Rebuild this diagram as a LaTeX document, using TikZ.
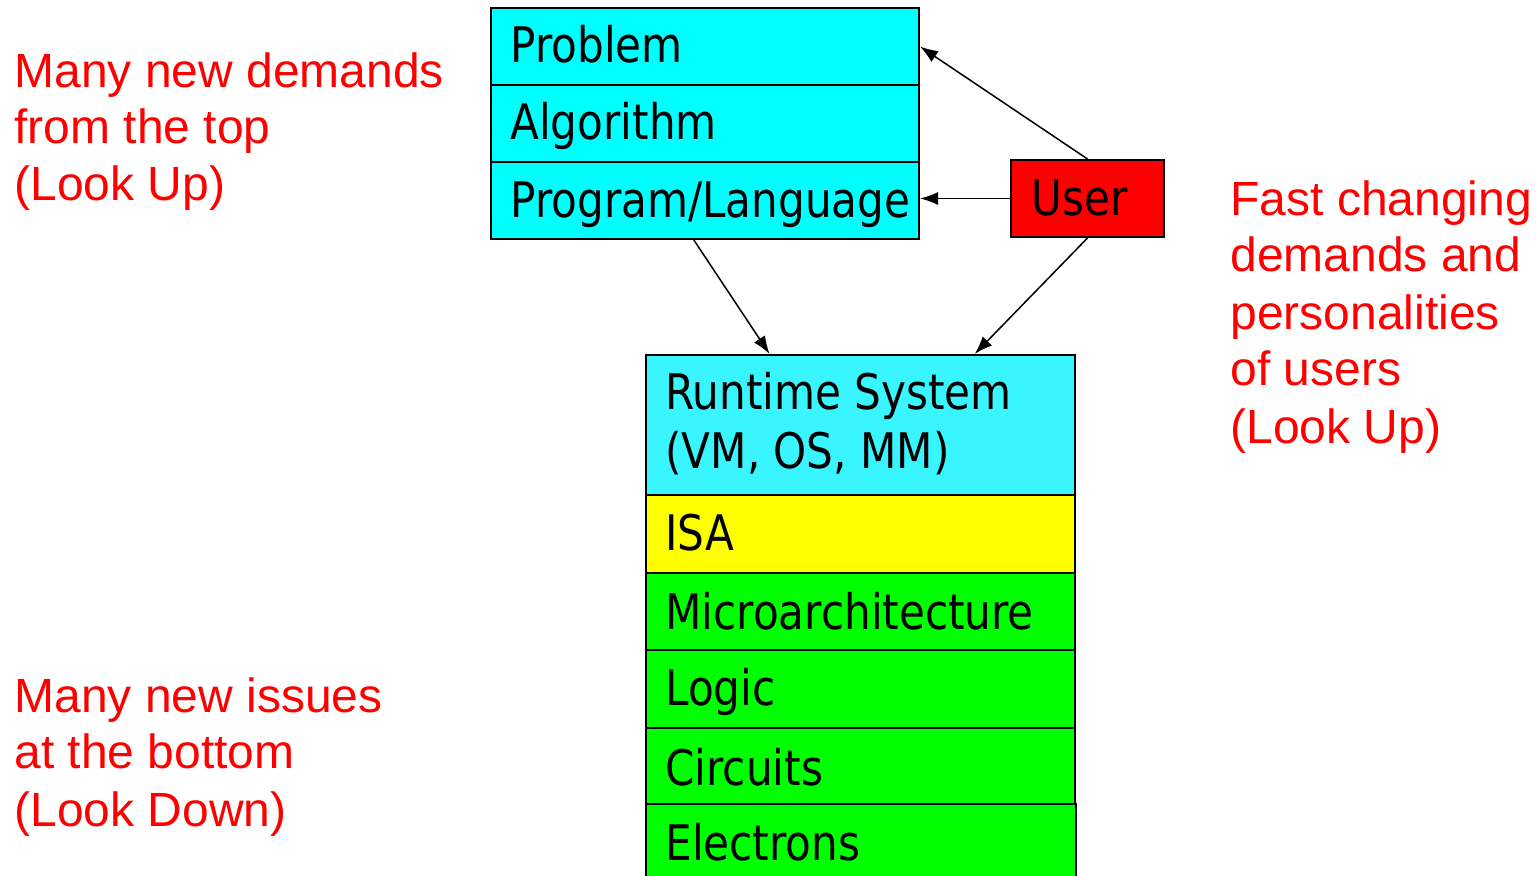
\documentclass[tikz,border=0pt]{standalone}
\usepackage{fontspec}
\setmainfont{Liberation Sans}
\newfontfamily\boxfont[FakeStretch=0.86]{DejaVu Sans}
\usetikzlibrary{arrows.meta,calc}
\definecolor{topcyan}{RGB}{0,255,255}
\definecolor{rtcyan}{RGB}{57,245,255}
\definecolor{isayellow}{RGB}{255,255,0}
\definecolor{hwgreen}{RGB}{0,255,0}
\definecolor{userred}{RGB}{255,0,0}
\definecolor{notered}{RGB}{255,0,0}
\begin{document}
\begin{tikzpicture}[x=0.5pt,y=-0.5pt,
  layer/.style={draw=black, line width=1pt, inner sep=0pt, anchor=north west, minimum width=214pt},
  lbl/.style={inner sep=0pt, anchor=base west, font=\boxfont\fontsize{24.5}{29}\selectfont},
  note/.style={inner sep=0pt, anchor=base west, text=notered, font=\fontsize{24}{28.5}\selectfont},
  arr/.style={draw=black, line width=0.75pt, -{Latex[length=9pt,width=6.5pt]}}]
\useasboundingbox (0,0) rectangle (1536,876);
\clip (0,0) rectangle (1536,876);
% top stack
\node[layer, fill=topcyan, minimum height=38.5pt] (prob) at (490,7) {};
\node[layer, fill=topcyan, minimum height=38.5pt] (algo) at (490,84) {};
\node[layer, fill=topcyan, minimum height=38.5pt] (prog) at (490,161) {};
\node[lbl] (tprob) at (510,63) {Problem};
\node[lbl] (talgo) at (510,140) {Algorithm};
\node[lbl] (tprog) at (510,218) {Program/Language};
% user
\node[layer, fill=userred, minimum width=76.5pt, minimum height=38.5pt] (user) at (1010,159) {};
\node[lbl] (tuser) at (1031,216) {User};
% bottom stack
\node[layer, fill=rtcyan, minimum width=214.5pt, minimum height=70pt] (rt) at (645,354) {};
\node[layer, fill=isayellow, minimum width=214.5pt, minimum height=39pt] (isa) at (645,494) {};
\node[layer, fill=hwgreen, minimum width=214.5pt, minimum height=38.5pt] (uarch) at (645,572) {};
\node[layer, fill=hwgreen, minimum width=214.5pt, minimum height=39pt] (logic) at (645,649) {};
\node[layer, fill=hwgreen, minimum width=214.5pt, minimum height=38pt] (circ) at (645,727) {};
\node[layer, fill=hwgreen, minimum width=215pt, minimum height=45pt] (elec) at (645,803) {};
\node[lbl] (trt1) at (665,410) {Runtime System};
\node[lbl] (trt2) at (665,469) {(VM, OS, MM)};
\node[lbl] (tisa) at (665,551) {ISA};
\node[lbl] (tuarch) at (665,629) {Microarchitecture};
\node[lbl] (tlogic) at (665,705) {Logic};
\node[lbl] (tcirc) at (665,785) {Circuits};
\node[lbl] (telec) at (665,860) {Electrons};
% arrows
\draw[arr] (user.north) -- (prob.east);
\draw[arr] (user.west) -- (user.west -| prog.east);
\draw[arr] ($(prog.south west)!0.474!(prog.south east)$) -- ($(rt.north west)!0.289!(rt.north east)$);
\draw[arr] (user.south) -- ($(rt.north west)!0.765!(rt.north east)$);
% notes
\node[note] (n1a) at (14,88) {Many new demands};
\node[note] (n1b) at (14,144) {from the top};
\node[note] (n1c) at (14,201) {(Look Up)};
\node[note] (n2a) at (1230,216) {Fast changing};
\node[note] (n2b) at (1230,272) {demands and};
\node[note] (n2c) at (1230,330) {personalities};
\node[note] (n2d) at (1230,386) {of users};
\node[note] (n2e) at (1230,444) {(Look Up)};
\node[note] (n3a) at (14,712) {Many new issues};
\node[note] (n3b) at (14,768) {at the bottom};
\node[note] (n3c) at (14,826) {(Look Down)};
\end{tikzpicture}
\end{document}
